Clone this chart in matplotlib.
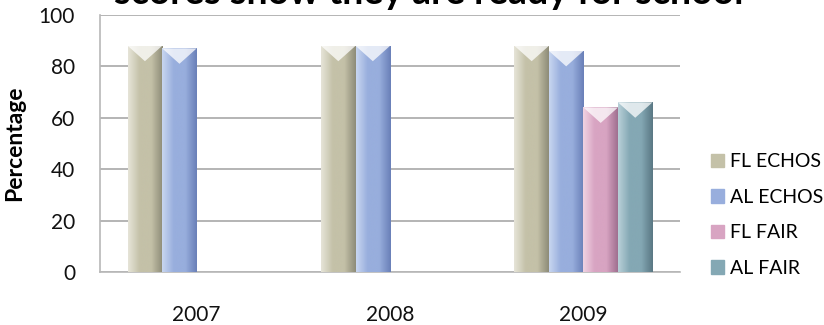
import numpy as np
import matplotlib
matplotlib.use("Agg")
import matplotlib.pyplot as plt
from matplotlib.colors import LinearSegmentedColormap
from matplotlib.patches import Polygon

plt.rcParams['font.family'] = ['Lato', 'DejaVu Sans']

years = ["2007", "2008", "2009"]
series = ["FL ECHOS", "AL ECHOS", "FL FAIR", "AL FAIR"]
fl_echos = [88, 88, 88]
al_echos = [87, 88, 86]
fl_fair = [0, 0, 64]
al_fair = [0, 0, 66]
values = [fl_echos, al_echos, fl_fair, al_fair]

# light edge, body, dark edge for each series
shades = [
    ("#e6e4d8", "#c4c1a8", "#8e8c78"),
    ("#c8d6f0", "#98aedd", "#6a80b8"),
    ("#f0d2e2", "#d8a4c2", "#a07090"),
    ("#b8d0d8", "#84a8b4", "#5a7884"),
]

fig = plt.figure(figsize=(8.24, 3.25), dpi=100)
ax = fig.add_axes([0.1214, 0.163, 0.704, 0.791])

x = np.arange(len(years))
w = 0.1785
for i, (name, vals) in enumerate(zip(series, values)):
    light, body, dark = shades[i]
    bars = ax.bar(x + (i - 1.5) * w, vals, w, color=body, label=name,
                  edgecolor="none", zorder=2)
    cmap = LinearSegmentedColormap.from_list(name, [light, body, body, dark])
    for b in bars:
        h = b.get_height()
        if h <= 0:
            continue
        x0, x1 = b.get_x(), b.get_x() + b.get_width()
        grad = np.linspace(0, 1, 64).reshape(1, -1)
        im = ax.imshow(grad, cmap=cmap, aspect="auto", extent=(x0, x1, 0, h),
                       zorder=3, interpolation="bicubic")
        im.set_clip_path(b)
        # bevelled top of the prism
        notch = Polygon([(x0, h), ((x0 + x1) / 2, h - 6), (x1, h)],
                        closed=True, facecolor="white", alpha=0.75,
                        edgecolor="none", zorder=4)
        ax.add_patch(notch)

ax.set_xlim(-0.5, 2.5)
ax.set_ylim(0, 100)
ax.set_yticks(range(0, 101, 20))
ax.set_xticks(x)
ax.set_xticklabels(years)
ax.tick_params(axis="both", length=0, labelsize=15, colors="#111111")
ax.tick_params(axis="y", pad=18)
ax.tick_params(axis="x", pad=24)
ax.grid(axis="y", color="#a8a8a8", linewidth=1.2, zorder=0)
ax.set_axisbelow(True)
for s in ["top", "right"]:
    ax.spines[s].set_visible(False)
ax.spines["left"].set_color("#b8b8b8")
ax.spines["bottom"].set_color("#b8b8b8")
ax.spines["left"].set_linewidth(1.2)
ax.spines["bottom"].set_linewidth(1.2)

ax.set_ylabel("Percentage", fontsize=16.5, fontweight="bold", labelpad=10)

fig.text(0.52, 1 - 4 / 325, "scores show they are ready for school",
         fontsize=27, fontweight="bold", ha="center", va="baseline")

handles = [plt.Rectangle((0, 0), 1, 1, color=s[1]) for s in shades]
fig.legend(handles, series, loc="upper left", bbox_to_anchor=(0.853, 0.552),
           frameon=False, fontsize=14, handlelength=0.7, handleheight=0.7,
           handletextpad=0.3, labelspacing=0.95, borderaxespad=0)

fig.savefig("out.png", dpi=100)
